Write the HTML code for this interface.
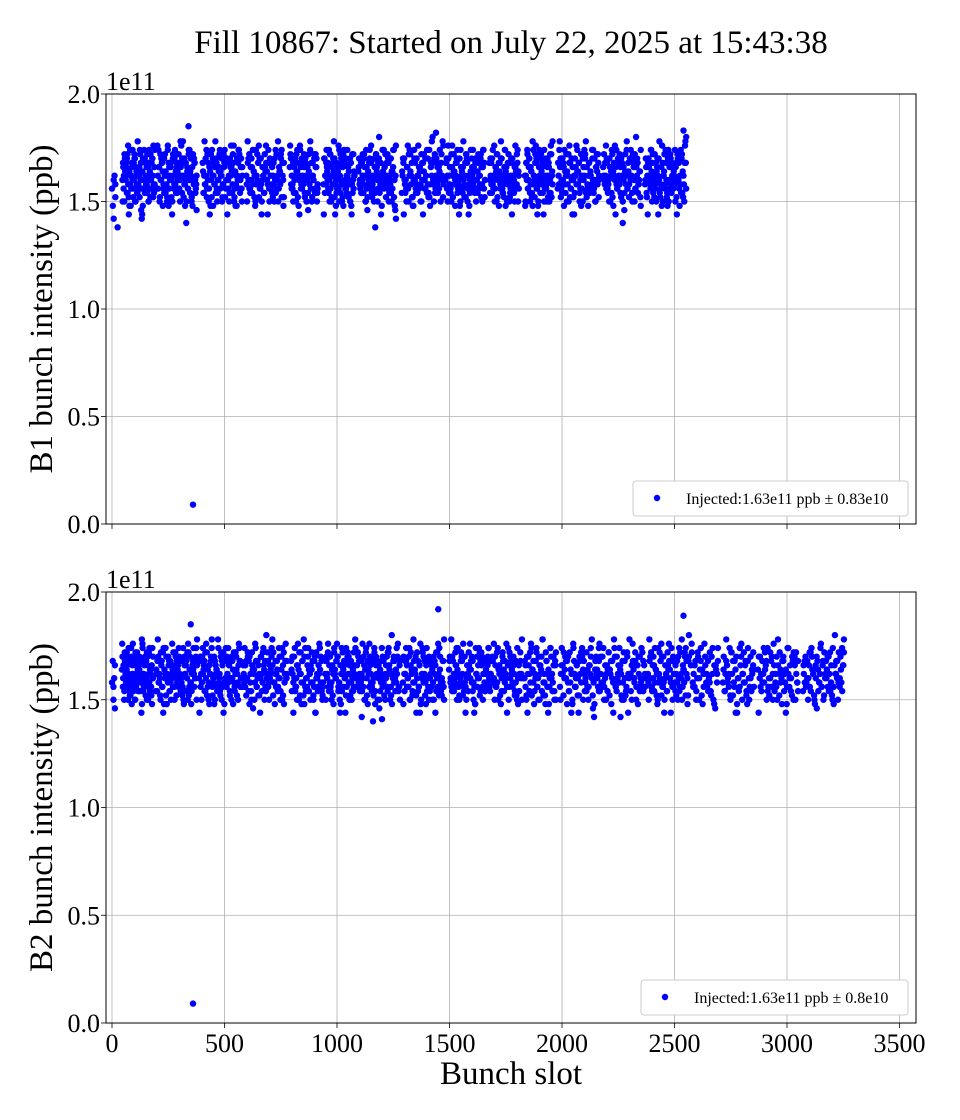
<!DOCTYPE html>
<html><head><meta charset="utf-8"><style>
body{margin:0;background:#fff;}
svg{display:block;font-family:"Liberation Serif",serif;}
</style></head><body>
<svg id="fig" width="960" height="1120"></svg>
<script>
const b1Clusters=[[0,15],[46,191],[200,376],[403,579],[597,764],[790,914],[940,1077],[1095,1262],[1288,1473],[1482,1658],[1677,1808],[1835,1958],[1981,2165],[2183,2350],[2369,2552]];
const b1Values=["kgdnl",
"mqkhrnpjsuiolgnqtkmrhpojvlnisqkegmtrnlpjqhmosknrilpt",
"kntpimrqgljsonhuqkmpiernltoqjmskhpnrvilgqnoktmjrhpslqmkf",
"qjnlrtkmhposingqlvrkjmptonhlsqikremnjpuolqhkgnrmtsjpkn",
"nhqmskprjloigtnmqurklhpnjsoqmetkrnlpiqhmjsnvkolrtqmi",
"pslnkqjmrhotignuplkqmsjrnhpfoltkqinmrjsphk",
"lrjnqpmkthsnilqoremjkpuhnslqigtmkrjnpolhqesmkn",
"ormkjqnlsphtkimqrnujlkhpnsomqrjlegtnkpmiqsrhnljokptmfd",
"jnqrlmhpkstonigmrqjlnukphsmqokrnjlitgpnqmhskrljponqmvu",
"mqkhrnpjsuiolgnqtkmrhpojvlnisqkegmtrnlpjqhmosknrilptqm",
"qjnlrtkmhposingqlvrkjmptonhlsqikremnjpuolqhk",
"nhqmskprjloigtnmqurklhpnjsoqmetkrnlpiqhmjsnv",
"kntpimrqgljsonhuqkmpiernltoqjmskhpnrvilgqnoktmjrhpslqm",
"pslnkqjmrhotignuplkqmsjrnhpfoltkqinmrjsphkwnqlmot",
"lrjnqpmkthsnilqoremjkpuhnslqigtmkrjnpolhqesmkntrjilqvw"];
const b1Values2=["mi",
"hpnsomqrjlegtnkpmiqsrhnljokptmfdormkjqnlsphtkimqrnujlk",
"ukphsmqokrnjlitgpnqmhskrljponqmvujnqrlmhpkstonigmrqjln",
"ojvlnisqkegmtrnlpjqhmosknrilptqmmqkhrnpjsuiolgnqtkmrhp",
"lvrkjmptonhlsqikremnjpuolqhkqjnlrtkmhposingq",
"urklhpnjsoqmetkrnlpiqhmjsnvnhqmskprjl",
"ernltoqjmskhpnrvilgqnoktmjrhpslqmkntpimrqgljson",
"plkqmsjrnhpfoltkqinmrjsphkwnqlmotpslnkqjmrhotignu",
"oremjkpuhnslqigtmkrjnpolhqesmkntrjilqvwlrjnqpmkthsnil",
"qrnujlkhpnsomqrjlegtnkpmiqsrhnljokptmormkjqnlsphtkim",
"mrqjlnukphsmqokrnjlitgpnqmhjnqrlmhpkston",
"gnqtkmrhpojvlnisqkegmtrnlpjqhmqkhrnpjsuiol",
"qlvrkjmptonhlsqikremnjpuolqhkgnrmtsjpknqjnlrtkmhposin",
"nmqurklhpnjsoqmetkrnlpiqhmjsnvkolrtnhqmskprjloig",
"mpiernltoqjmskhpnrvilgqnoktmjrhpslqmkntpimrqgljsonhuqk"];
const b1Extra=[[360,0.09],[340,1.85],[25,1.38],[1170,1.38],[2270,1.40],[330,1.40],[2540,1.83],[1440,1.82]];
const b2Clusters=[[0,13],[44,182],[195,378],[387,573],[582,778],[796,938],[947,1084],[1089,1280],[1293,1476],[1498,1680],[1680,1822],[1831,1973],[1991,2164],[2164,2369],[2382,2564],[2573,2693],[2715,2853],[2871,3049],[3071,3253]];
const b2Values=["lqhmf",
"ormkjqnlsphtkimqrnujlkhpnsomqrjlegtnkpmiqsrhnljokptm",
"jnqrlmhpkstonigmrqjlnukphsmqokrnjlitgpnqmhskrljponqmtv",
"mqkhrnpjsuiolgnqtkmrhpojvlnisqkegmtrnlpjqhmosknrilptqk",
"kntpimrqgljsonhuqkmpiernltoqjmskhpnrvilgqnoktmjrhpslqmn",
"qjnlrtkmhposingqlvrkjmptonhlsqikremnjpuolqhk",
"nhqmskprjloigtnmqurklhpnjsoqmetkrnlpiqhmjsnvk",
"pslnkqjmrhotignuplkqmsjrnhpfoltkqinmrjsphkwnqlmotrjkq",
"lrjnqpmkthsnilqoremjkpuhnslqigtmkrjnpolhqesmkntrjilqv",
"ormkjqnlsphtkimqrnujlkhpnsomqrjlegtnkpmiqsrhnljokptmq",
"jnqrlmhpkstonigmrqjlnukphsmqokrnjlitgpnqmh",
"mqkhrnpjsuiolgnqtkmrhpojvlnisqkegmtrnlpjqh",
"kntpimrqgljsonhuqkmpiernltoqjmskhpnrvilgqnokt",
"qjnlrtkmhposingqlvrkjmptonhlsqikremnjpuolqhkgnrmtsjpk",
"nhqmskprjloigtnmqurklhpnjsoqmetkrnlpiqhmjsnvkolrtqmiw",
"pslnkqjmrhotignuplkqmsjrnhpfolt",
"lrjnqpmkthsnilqoremjkpuhnslqigtmkrjnpo",
"ormkjqnlsphtkimqrnujlkhpnsomqrjlegtnkpmiqsrhnlj",
"jnqrlmhpkstonigmrqjlnukphsmqokrnjlitgpnqmhskrljpv"];
const b2Values2=["kp",
"ukphsmqokrnjlitgpnqmhskrljponqmvujnqrlmhpkstonigmr",
"ojvlnisqkegmtrnlpjqhmosknrilptqmmqkhrnpjsuiolgnqtkmrhp",
"ernltoqjmskhpnrvilgqnoktmjrhpslqmkntpimrqgljsonhuqkm",
"plkqmsjrnhpfoltkqinmrjsphkwnqlmotpslnkqjmrhotignumq",
"oremjkpuhnslqigtmkrjnpolhqesmkntrjil",
"qrnujlkhpnsomqrjlegtnkpmiqsrhnljokptm",
"mrqjlnukphsmqokrnjlitgpnqmhjnqrlmhpkstonigmrqjlnukph",
"gnqtkmrhpojvlnisqkegmtrnlpjqhmqkhrnpjsuiolmqkh",
"qlvrkjmptonhlsqikremnjpuolqhkgnrmtsjpknqjnlrtkm",
"nmqurklhpnjsoqmetkrnlpiqhmjsnv",
"mpiernltoqjmskhpnrvilgqnoktmjrhps",
"hpnsomqrjlegtnkpmiqsrhnljokptmfdormkj",
"urklhpnjsoqmetkrnlpiqhmjsnvnhqmskprjlkqmn",
"lvrkjmptonhlsqikremnjpuolqhkqjnlrtkmhposingqr",
"ukphsmqokrnjlitgpnq",
"ojvlnisqkegmtrnlpjqhmosk",
"ernltoqjmskhpnrvilgqnoktmjrhpslq",
"plkqmsjrnhpfoltkqinmrjsphkwnqlmotps"];
const b2Extra=[[360,0.09],[1450,1.92],[2540,1.89],[1160,1.40],[1110,1.42],[1200,1.41],[2260,1.42],[350,1.85]];
const xTicks=[0,500,1000,1500,2000,2500,3000,3500];
const yTicks=[0,0.5,1.0,1.5,2.0];
const legendTexts=["Injected:1.63e11 ppb \u00b1 0.83e10","Injected:1.63e11 ppb \u00b1 0.8e10"];

const NS="http://www.w3.org/2000/svg";
const svg=document.getElementById('fig');
function mk(tag,attrs,parent){const e=document.createElementNS(NS,tag);for(const k in attrs)e.setAttribute(k,attrs[k]);(parent||svg).appendChild(e);return e;}
const X0=106,X1=916;
function xs(s){return 112+0.225*s;}
function decode(ch){return 1.36+0.02*(ch.charCodeAt(0)-97);}

const t=mk('text',{x:511,y:53,'text-anchor':'middle','font-size':33});
t.textContent="Fill 10867: Started on July 22, 2025 at 15:43:38";



function panel(top,bot,clusters,valSets,extra,ylab,legText,legX,showX,name){
  const g=mk('g',{});
  
  
  const ys=v=>bot-(bot-top)/2.0*v;
  xTicks.forEach(v=>{const x=xs(v);
    const l=mk('line',{x1:x,x2:x,y1:top,y2:bot,stroke:'#b0b0b0','stroke-width':0.8},g);
    
    mk('line',{x1:x,x2:x,y1:bot,y2:bot+5,stroke:'#000','stroke-width':0.8},g);
    if(showX){const tt=mk('text',{x:x,y:bot+29,'text-anchor':'middle','font-size':26},g);tt.textContent=String(v);
      }
  });
  yTicks.forEach(v=>{const y=ys(v);
    const l=mk('line',{x1:X0,x2:X1,y1:y,y2:y,stroke:'#b0b0b0','stroke-width':0.8},g);
    
    mk('line',{x1:X0-5,x2:X0,y1:y,y2:y,stroke:'#000','stroke-width':0.8},g);
    const tt=mk('text',{x:X0-6,y:y+9,'text-anchor':'end','font-size':26},g);tt.textContent=v.toFixed(1);
    
  });
  const off=mk('text',{x:X0,y:top-4,'font-size':26},g);off.textContent="1e11";
  
  const yl=mk('text',{x:0,y:0,'text-anchor':'middle','font-size':33,transform:`translate(52,${(top+bot)/2}) rotate(-90)`},g);
  yl.textContent=ylab;
  
  const pts=mk('g',{fill:'#0000ff'},g);
  
  valSets.forEach((vals,k)=>{
    clusters.forEach((c,i)=>{const s=vals[i];const n=s.length;
      const step=n>1?(c[1]-c[0])/(n-1):0;
      for(let j=0;j<n;j++){const slot=Math.min(c[1],c[0]+step*j+k*step/2);
        const v=decode(s[j]);
        const p=mk('circle',{cx:xs(slot),cy:ys(v),r:3.2},pts);
        }
    });
  });
  extra.forEach(e=>{const p=mk('circle',{cx:xs(e[0]),cy:ys(e[1]),r:3.2},pts);
    });
  const fr=mk('rect',{x:X0,y:top,width:X1-X0,height:bot-top,fill:'none',stroke:'#000','stroke-width':1},g);
  
  const lg=mk('g',{},g);
  
  mk('rect',{x:legX,y:bot-43,width:908-legX,height:35,rx:3,fill:'#fff',stroke:'#ccc','stroke-width':1},lg);
  mk('circle',{cx:legX+24,cy:bot-26,r:3.2,fill:'#0000ff'},lg);
  const lt=mk('text',{x:legX+53,y:bot-20,'font-size':16},lg);lt.textContent=legText;
  
}
panel(94,524,b1Clusters,[b1Values,b1Values2],b1Extra,"B1 bunch intensity (ppb)",legendTexts[0],633,false,'b1-panel');
panel(592,1023,b2Clusters,[b2Values,b2Values2],b2Extra,"B2 bunch intensity (ppb)",legendTexts[1],641,true,'b2-panel');
const xl=mk('text',{x:511,y:1084,'text-anchor':'middle','font-size':33});
xl.textContent="Bunch slot";


</script>
</body></html>
